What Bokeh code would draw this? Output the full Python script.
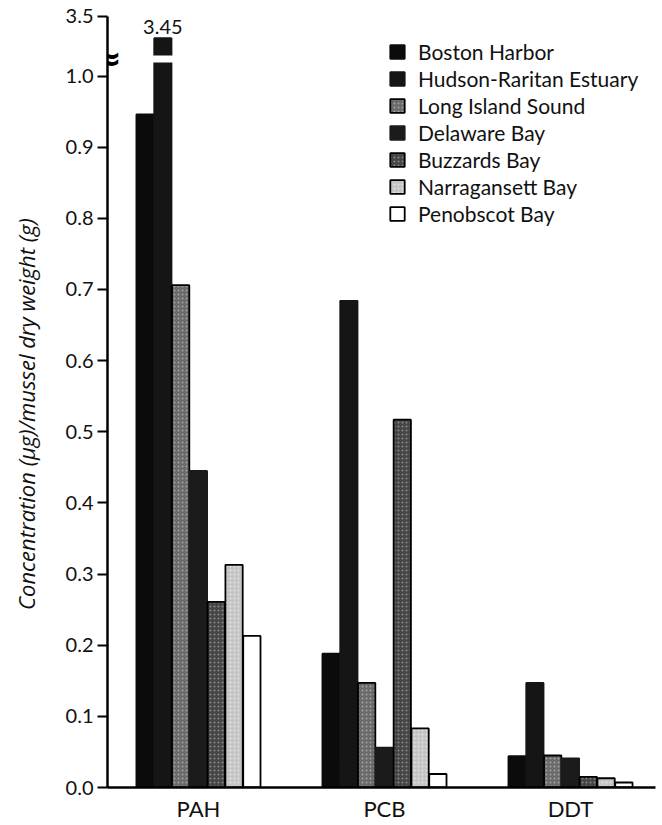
from bokeh.plotting import figure
from bokeh.models import (Range1d, Legend, LegendItem, FixedTicker, ColumnDataSource,
                          NumeralTickFormatter)
from bokeh.transform import dodge
from bokeh.core.properties import value
from bokeh.embed import file_html
from bokeh.resources import INLINE

# ---------------- data ----------------
categories = ["PAH", "PCB", "DDT"]
sites = ["Boston Harbor", "Hudson-Raritan Estuary", "Long Island Sound",
         "Delaware Bay", "Buzzards Bay", "Narragansett Bay", "Penobscot Bay"]
boston = [0.946, 0.188, 0.044]
hudson = [3.45, 0.684, 0.147]
long_island = [0.706, 0.147, 0.045]
delaware = [0.445, 0.056, 0.041]
buzzards = [0.261, 0.517, 0.015]
narragansett = [0.313, 0.083, 0.013]
penobscot = [0.213, 0.019, 0.007]
series = [boston, hudson, long_island, delaware, buzzards, narragansett, penobscot]

y_ticks = [0.0, 0.1, 0.2, 0.3, 0.4, 0.5, 0.6, 0.7, 0.8, 0.9, 1.0]
top_tick_value = 3.5
y_title = "Concentration (µg)/mussel dry weight (g)"

# ---------------- broken axis mapping ----------------
BREAK_AT = 1.0
TOP_DISPLAY = 1.0841
UPPER_SCALE = 0.62


def to_display(v):
    return v if v <= BREAK_AT else TOP_DISPLAY - (top_tick_value - v) * UPPER_SCALE


FONT = "Lato"
fills = ["#0b0b0b", "#151515", "#6a6a6a", "#1b1b1b", "#454545", "#c4c4c4", "#ffffff"]
lines = ["#0b0b0b", "#151515", "#000000", "#1b1b1b", "#000000", "#000000", "#000000"]
hatches = ["blank", "blank", "dot", "blank", "dot", "dot", "blank"]
hatch_cols = ["white", "white", "#d0d0d0", "white", "#bdbdbd", "#ffffff", "white"]

bar_w = 0.0957
offsets = [(i - 3) * bar_w for i in range(len(sites))]
X_START, X_END = -0.489, 2.457

data = {"x": list(range(len(categories)))}
for i, s in enumerate(series):
    data[f"s{i}"] = [to_display(v) for v in s]
src = ColumnDataSource(data)

p = figure(width=660, height=824, output_backend="svg", toolbar_location=None,
           x_range=Range1d(X_START, X_END), y_range=Range1d(0, 1.0977),
           min_border_left=107, min_border_right=5, min_border_top=6, min_border_bottom=36)
p.outline_line_color = None
p.xgrid.visible = False
p.ygrid.visible = False

renderers = []
for i, name in enumerate(sites):
    r = p.vbar(x=dodge("x", offsets[i], range=p.x_range), top=f"s{i}", width=bar_w * 0.97,
               source=src, fill_color=fills[i], line_color=lines[i], line_width=1.8,
               hatch_pattern=hatches[i], hatch_color=hatch_cols[i], hatch_scale=4,
               hatch_weight=1, hatch_alpha=0.55)
    renderers.append(r)

# break gap and value label on bars that exceed the break
brk_idx = [j for j, v in enumerate(hudson) if v > BREAK_AT]
brk_src = ColumnDataSource({"x": brk_idx,
                            "lo": [1.019] * len(brk_idx),
                            "hi": [1.029] * len(brk_idx),
                            "top": [to_display(hudson[j]) for j in brk_idx],
                            "lab": [f"{hudson[j]:.2f}" for j in brk_idx]})
p.vbar(x=dodge("x", offsets[1], range=p.x_range), bottom="lo", top="hi", width=bar_w * 1.2,
       source=brk_src, fill_color="white", line_color=None)
p.text(x=dodge("x", offsets[1], range=p.x_range), y="top", text="lab", source=brk_src,
       text_align="center", text_baseline="bottom", y_offset=-4,
       text_font=value(FONT), text_font_size="20px", text_color="#111111")

# axis break symbol on the y axis line
brk_mark = ColumnDataSource({"x": [X_START], "y": [1.0248], "t": ["≈"]})
p.text(x="x", y="y", text="t", source=brk_mark, text_align="center", text_baseline="middle",
       text_font=value("DejaVu Sans"), text_font_style="bold", text_font_size="34px",
       text_color="#000000")

# axes
yax = p.yaxis[0]
yax.ticker = FixedTicker(ticks=y_ticks + [TOP_DISPLAY])
yax.formatter = NumeralTickFormatter(format="0.0")
yax.major_label_overrides = {TOP_DISPLAY: "3.5"}
yax.bounds = (0, TOP_DISPLAY)
yax.axis_line_width = 2.5
yax.major_tick_line_width = 2
yax.major_tick_out = 10
yax.major_tick_in = 0
yax.minor_tick_line_color = None
yax.major_label_standoff = 4
yax.major_label_text_font = FONT
yax.major_label_text_font_size = "20px"
yax.major_label_text_color = "#111111"
yax.axis_label = y_title + "\u00a0" * 6
yax.axis_label_text_font = "Open Sans"
yax.axis_label_text_font_style = "italic"
yax.axis_label_text_font_size = "22px"
yax.axis_label_text_color = "#111111"
yax.axis_label_standoff = 22

xax = p.xaxis[0]
xax.ticker = FixedTicker(ticks=list(range(len(categories))))
xax.major_label_overrides = {i: c for i, c in enumerate(categories)}
xax.axis_line_width = 2.5
xax.major_tick_line_color = None
xax.major_tick_out = 0
xax.major_tick_in = 0
xax.minor_tick_line_color = None
xax.major_label_standoff = 7
xax.major_label_text_font = FONT
xax.major_label_text_font_size = "22px"
xax.major_label_text_color = "#111111"

legend = Legend(items=[LegendItem(label=s, renderers=[renderers[i]]) for i, s in enumerate(sites)],
                location=(281, 561), padding=0, margin=0, spacing=2,
                glyph_width=18, glyph_height=17, label_height=21, label_standoff=12,
                label_text_font=FONT, label_text_font_size="21px", label_text_color="#111111",
                border_line_color=None, background_fill_alpha=0)
p.add_layout(legend)

open("out.html", "w").write(file_html(p, INLINE))
